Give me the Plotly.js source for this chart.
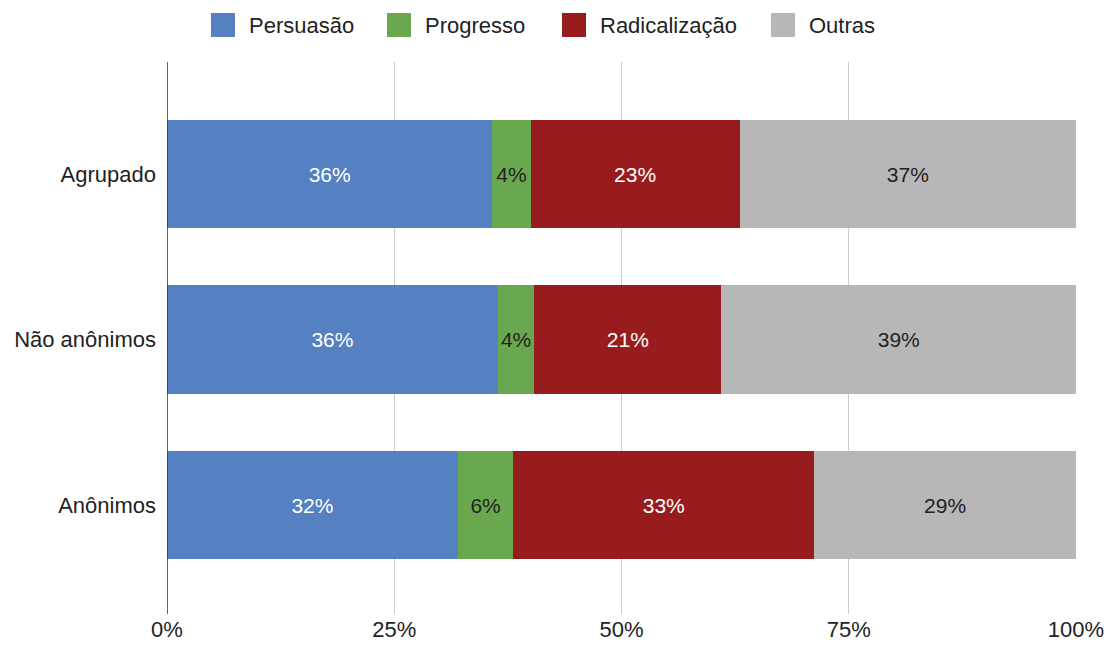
<!DOCTYPE html>
<html>
<head>
<meta charset="utf-8">
<script src="https://cdn.plot.ly/plotly-3.0.1.min.js"></script>
<style>html,body{margin:0;padding:0;background:#fff}#chart{width:1107px;height:645px}</style>
</head>
<body>
<div id="chart"></div>
<script>
const categories = ['Agrupado', 'Não anônimos', 'Anônimos'];
const seriesNames = ['Persuasão', 'Progresso', 'Radicalização', 'Outras'];
const persuasao = [35.8, 36.4, 32.0];
const progresso = [4.2, 4.0, 6.1];
const radicalizacao = [23.0, 20.6, 33.1];
const outras = [37.0, 39.0, 28.8];
const tickValues = [0, 25, 50, 75, 100];
const tickLabels = ['0%', '25%', '50%', '75%', '100%'];

const colors = ['#5580c1', '#6aa84f', '#981b1e', '#b7b7b7'];
const textColors = ['#ffffff', '#222222', '#ffffff', '#222222'];
const values = [persuasao, progresso, radicalizacao, outras];
const FONT = '"Liberation Sans", Arial, sans-serif';

const traces = seriesNames.map((name, i) => ({
  type: 'bar',
  orientation: 'h',
  name: name,
  y: categories,
  x: values[i],
  marker: {color: colors[i], line: {width: 0}},
  texttemplate: '%{x:.0f}%',
  textposition: 'inside',
  insidetextanchor: 'middle',
  textangle: 0,
  constraintext: 'none',
  insidetextfont: {family: FONT, size: 21, color: textColors[i]},
  hoverinfo: 'none',
  showlegend: false
}));

// custom legend (large squares like the reference)
const legendX = [211, 387, 562, 771];
const shapes = [];
const annotations = [];
const W = 1107, H = 645, L = 167, R = 31, T = 62, B = 31;
const pw = W - L - R, ph = H - T - B;
function px2x(p) { return (p - L) / pw; }
function py2y(p) { return (H - B - p) / ph; }
seriesNames.forEach((name, i) => {
  shapes.push({
    type: 'rect', xref: 'paper', yref: 'paper',
    x0: px2x(legendX[i]), x1: px2x(legendX[i] + 24),
    y0: py2y(37), y1: py2y(13),
    fillcolor: colors[i], line: {width: 0}
  });
  annotations.push({
    xref: 'paper', yref: 'paper', x: px2x(legendX[i] + 36), y: py2y(25),
    xanchor: 'left', yanchor: 'middle', showarrow: false,
    text: name, font: {family: FONT, size: 22, color: '#222222'}
  });
});

const layout = {
  width: W, height: H,
  margin: {l: L, r: R, t: T, b: B, pad: 0},
  barmode: 'stack',
  bargap: 0.345,
  paper_bgcolor: '#ffffff',
  plot_bgcolor: '#ffffff',
  font: {family: FONT, size: 22, color: '#222222'},
  xaxis: {
    range: [0, 100],
    tickvals: tickValues,
    ticktext: tickLabels,
    showgrid: true, gridcolor: '#cccccc', gridwidth: 1,
    zeroline: false, showline: false,
    ticks: '', ticklen: 0,
    tickfont: {family: FONT, size: 22, color: '#222222'},
    fixedrange: true
  },
  yaxis: {
    type: 'category',
    range: [2.657, -0.677],
    showgrid: false, zeroline: false,
    showline: false,
    ticks: '', ticklabelstandoff: 10,
    tickfont: {family: FONT, size: 22, color: '#222222'},
    fixedrange: true
  },
  shapes: shapes.concat([{
    type: 'line', xref: 'x', yref: 'paper', x0: 0, x1: 0, y0: 0, y1: 1,
    line: {color: '#333333', width: 1.5}
  }]),
  annotations: annotations,
  showlegend: false
};

Plotly.newPlot('chart', traces, layout, {displayModeBar: false, staticPlot: true});
</script>
</body>
</html>
